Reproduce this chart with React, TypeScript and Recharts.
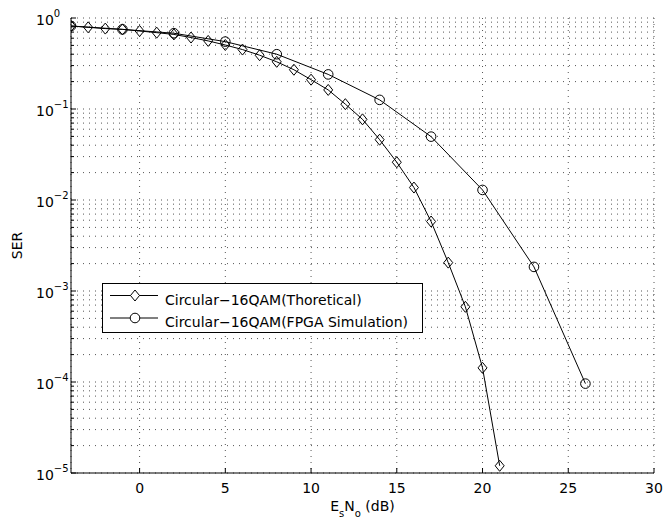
import React from 'react';
import { LineChart, Line, XAxis, YAxis, CartesianGrid, Legend } from 'recharts';

const theoX = [-4, -3, -2, -1, 0, 1, 2, 3, 4, 5, 6, 7, 8, 9, 10, 11, 12, 13, 14, 15, 16, 17, 18, 19, 20, 21];
const theoSER = [0.817, 0.79, 0.765, 0.75, 0.72, 0.69, 0.66, 0.61, 0.56, 0.505, 0.45, 0.39, 0.33, 0.27, 0.21, 0.162, 0.113, 0.077, 0.046, 0.026, 0.0137, 0.0058, 0.00205, 0.00067, 0.000143, 0.000012];
const fpgaX = [-4, -1, 2, 5, 8, 11, 14, 17, 20, 23, 26];
const fpgaSER = [0.817, 0.75, 0.68, 0.55, 0.4, 0.24, 0.126, 0.0497, 0.0129, 0.00184, 0.000096];
const seriesNames = ['Circular\u221216QAM(Thoretical)', 'Circular\u221216QAM(FPGA Simulation)'];
const xTicks = [0, 5, 10, 15, 20, 25, 30];
const yExponents = [-5, -4, -3, -2, -1, 0];
const yMinorFactors = [1, 2, 3, 4, 5, 6, 7, 8, 9];
const xLabelMain = ['E', 'N', ' (dB)'];
const xLabelSubs = ['s', 'o'];
const yLabel = 'SER';

const theoData = theoX.map((x, i) => ({ x, y: theoSER[i] }));
const fpgaData = fpgaX.map((x, i) => ({ x, y: fpgaSER[i] }));
const yTicks: number[] = [];
yExponents.forEach((e) => {
  if (e === 0) {
    yTicks.push(1);
  } else {
    yMinorFactors.forEach((f) => yTicks.push(Number((f * Math.pow(10, e)).toPrecision(6))));
  }
});

const FONT = '"DejaVu Sans", "Liberation Sans", Arial, sans-serif';
const isDecade = (v: number) => Math.abs(Math.log10(v) - Math.round(Math.log10(v))) < 1e-6;
const MINUS = '\u2212';

const BottomTick = (props: any) => {
  const { x, y, payload } = props;
  return (
    <g>
      <line x1={x} y1={y} x2={x} y2={y - 5} stroke="#000" strokeWidth={1} />
      <text x={x} y={y + 20} textAnchor="middle" fontFamily={FONT} fontSize={14} fill="#000">
        {payload.value < 0 ? MINUS + Math.abs(payload.value) : payload.value}
      </text>
    </g>
  );
};

const TopTick = (props: any) => {
  const { x, y } = props;
  return <line x1={x} y1={y} x2={x} y2={y + 5} stroke="#000" strokeWidth={1} />;
};

const LeftTick = (props: any) => {
  const { x, y, payload } = props;
  const major = isDecade(payload.value);
  const exp = Math.round(Math.log10(payload.value));
  return (
    <g>
      <line x1={x} y1={y} x2={x + (major ? 5 : 3)} y2={y} stroke="#000" strokeWidth={1} />
      {major && (
        <text x={x - 35} y={y + 6.5} textAnchor="start" fontFamily={FONT} fontSize={14} fill="#000">
          10
          <tspan dy={-8} fontSize={10}>{exp < 0 ? MINUS + Math.abs(exp) : String(exp)}</tspan>
        </text>
      )}
    </g>
  );
};

const RightTick = (props: any) => {
  const { x, y, payload } = props;
  const major = isDecade(payload.value);
  return <line x1={x} y1={y} x2={x - (major ? 5 : 3)} y2={y} stroke="#000" strokeWidth={1} />;
};

const DiamondDot = (props: any) => {
  const { cx, cy, index } = props;
  if (cx == null || cy == null) return <g key={`d-${index}`} />;
  return (
    <path
      key={`d-${index}`}
      d={`M${cx},${cy - 5.5} L${cx + 4.5},${cy} L${cx},${cy + 5.5} L${cx - 4.5},${cy} Z`}
      fill="none"
      stroke="#000"
      strokeWidth={1}
    />
  );
};

const CircleDot = (props: any) => {
  const { cx, cy, index } = props;
  if (cx == null || cy == null) return <g key={`c-${index}`} />;
  return <circle key={`c-${index}`} cx={cx} cy={cy} r={4.8} fill="none" stroke="#000" strokeWidth={1} />;
};

const LegendBox = () => (
  <svg width={322} height={51} style={{ display: 'block' }}>
    <rect x={0.5} y={0.5} width={320} height={49} fill="#fff" stroke="#000" strokeWidth={1} />
    {seriesNames.map((name, i) => {
      const ly = i === 0 ? 12.5 : 35;
      return (
        <g key={name}>
          <line x1={8} y1={ly} x2={56} y2={ly} stroke="#000" strokeWidth={1} />
          {i === 0 ? (
            <path d={`M33,${ly - 5.5} L37.5,${ly} L33,${ly + 5.5} L28.5,${ly} Z`} fill="#fff" stroke="#000" />
          ) : (
            <circle cx={33} cy={ly} r={4.8} fill="#fff" stroke="#000" />
          )}
          <text x={63} y={ly + 9.3} fontFamily={FONT} fontSize={14} fill="#000">
            {name}
          </text>
        </g>
      );
    })}
  </svg>
);

export default function App() {
  return (
    <div style={{ position: 'absolute', left: 0, top: 0, width: 664, height: 526, background: '#fff' }}>
      <LineChart width={664} height={526} margin={{ top: 18, right: 10, bottom: 0, left: 0 }}>
        <CartesianGrid
          xAxisId={0}
          yAxisId={0}
          stroke="#555"
          strokeDasharray="1 5"
          strokeWidth={1}
        />
        <XAxis
          xAxisId={0}
          type="number"
          dataKey="x"
          domain={[-4, 30]}
          allowDataOverflow
          ticks={xTicks}
          interval={0}
          height={53}
          tickSize={0}
          tickMargin={0}
          tick={<BottomTick />}
          axisLine={{ stroke: '#000', strokeWidth: 1 }}
        />
        <XAxis
          xAxisId={1}
          orientation="top"
          type="number"
          dataKey="x"
          domain={[-4, 30]}
          allowDataOverflow
          ticks={xTicks}
          interval={0}
          height={0}
          tickSize={0}
          tickMargin={0}
          tick={<TopTick />}
          axisLine={{ stroke: '#000', strokeWidth: 1 }}
        />
        <YAxis
          yAxisId={0}
          type="number"
          dataKey="y"
          scale="log"
          domain={[1e-5, 1]}
          allowDataOverflow
          ticks={yTicks}
          interval={0}
          width={71}
          tickSize={0}
          tickMargin={0}
          tick={<LeftTick />}
          axisLine={{ stroke: '#000', strokeWidth: 1 }}
          label={{
            value: yLabel,
            angle: -90,
            position: 'insideLeft',
            dx: 12,
            dy: 0,
            style: { fontFamily: FONT, fontSize: 14, fill: '#000', textAnchor: 'middle' },
          }}
        />
        <YAxis
          yAxisId={1}
          orientation="right"
          type="number"
          dataKey="y"
          scale="log"
          domain={[1e-5, 1]}
          allowDataOverflow
          ticks={yTicks}
          interval={0}
          width={0}
          tickSize={0}
          tickMargin={0}
          tick={<RightTick />}
          axisLine={{ stroke: '#000', strokeWidth: 1 }}
        />
        <Line
          xAxisId={0}
          yAxisId={0}
          data={theoData}
          dataKey="y"
          name={seriesNames[0]}
          stroke="#000"
          strokeWidth={1}
          dot={DiamondDot}
          activeDot={false}
          isAnimationActive={false}
        />
        <Line
          xAxisId={0}
          yAxisId={0}
          data={fpgaData}
          dataKey="y"
          name={seriesNames[1]}
          stroke="#000"
          strokeWidth={1}
          dot={CircleDot}
          activeDot={false}
          isAnimationActive={false}
        />
        <Legend
          layout="vertical"
          align="center"
          verticalAlign="middle"
          wrapperStyle={{ left: 102, top: 283, width: 322, height: 51 }}
          content={() => <LegendBox />}
        />
        <text x={362.5} y={511} textAnchor="middle" fontFamily={FONT} fontSize={14} fill="#000">
          {xLabelMain[0]}
          <tspan dy={6} fontSize={10}>{xLabelSubs[0]}</tspan>
          <tspan dy={-6}>{xLabelMain[1]}</tspan>
          <tspan dy={6} fontSize={10}>{xLabelSubs[1]}</tspan>
          <tspan dy={-6}>{xLabelMain[2]}</tspan>
        </text>
      </LineChart>
    </div>
  );
}
